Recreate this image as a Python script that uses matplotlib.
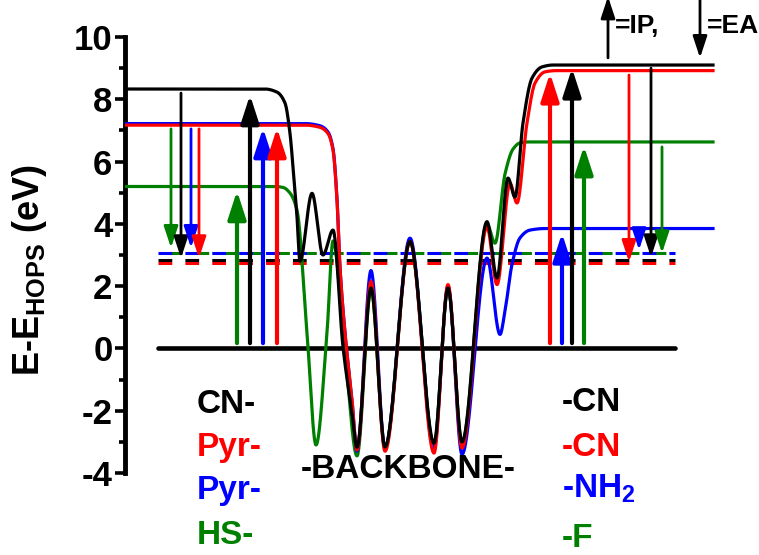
import matplotlib

matplotlib.use("Agg")
import matplotlib.pyplot as plt
import numpy as np
from matplotlib.ticker import MultipleLocator

plt.rcParams["font.family"] = ["Liberation Sans", "DejaVu Sans"]
plt.rcParams["font.weight"] = "bold"
plt.rcParams["axes.unicode_minus"] = False
plt.rcParams["mathtext.fontset"] = "custom"
plt.rcParams["mathtext.rm"] = "Liberation Sans:bold"
plt.rcParams["mathtext.it"] = "Liberation Sans:bold"
plt.rcParams["mathtext.bf"] = "Liberation Sans:bold"

GREEN, BLUE, RED, BLACK = "#008000", "#0000ff", "#ff0000", "#000000"

# energy profiles along the molecule (position, E - E_HOPS in eV)
X_CN = [125, 265, 277, 285, 290, 293, 297, 300, 312, 323, 333, 343, 352, 357, 371, 385,
        410, 434, 448, 462, 487, 497, 508, 515, 523, 532, 542, 553, 713]
Y_CN = [8.33, 8.33, 8.23, 7.88, 6.9, 5.83, 4.22, 2.8, 4.98, 3.0, 3.8, 0.05, -2.08, -3.17, 1.94, -3.16,
        3.43, -3.04, 1.94, -3.0, 4.07, 2.26, 5.47, 4.86, 7.24, 8.68, 9.04, 9.1, 9.1]

X_PYR_CN = [125, 305, 320, 328, 333, 337, 340, 345, 352, 357, 371, 385, 410, 434, 448, 462,
            487, 497, 510, 517, 527, 535, 545, 556, 713]
Y_PYR_CN = [7.17, 7.17, 7.1, 6.9, 6.37, 4.77, 2.6, 0.5, -1.66, -3.26, 2.15, -3.3, 3.43, -3.36, 2.05, -3.2,
            3.9, 2.05, 5.3, 4.67, 7.24, 8.52, 8.88, 8.92, 8.92]

X_PYR_NH2 = [125, 305, 320, 328, 333, 337, 340, 345, 352, 357, 371, 385, 410, 434, 448, 462,
             487, 500, 505, 512, 520, 530, 545, 713]
Y_PYR_NH2 = [7.22, 7.22, 7.15, 6.95, 6.42, 4.8, 2.6, 0.5, -1.66, -3.3, 2.5, -3.2, 3.54, -3.2, 2.0, -3.4,
             2.9, 0.45, 1.2, 2.7, 3.55, 3.8, 3.85, 3.85]

X_HS_F = [125, 275, 283, 290, 297, 307, 316, 327, 333, 345, 357, 371, 385, 410, 434, 448, 462,
          487, 495, 505, 513, 520, 528, 713]
Y_HS_F = [5.2, 5.2, 5.17, 4.99, 4.44, 0.5, -3.1, 0.5, 3.45, -0.15, -3.45, 1.9, -3.2, 3.43, -3.1, 1.94, -3.05,
          4.0, 3.38, 5.6, 6.4, 6.6, 6.63, 6.63]

# HOPS levels (dashed) and zero reference
DASH_LEVELS = {"green": 3.07, "blue": 3.05, "black": 2.83, "red": 2.73}
DASH_X = [158, 675]
ZERO_X = [158, 675]

# arrows: x, start, end
EA_LEFT_X = [171, 181, 191, 199]
EA_LEFT_TOP = [7.05, 8.2, 7.05, 7.05]
EA_LEFT_TIP = [3.23, 2.9, 3.23, 2.9]
EA_LEFT_C = [GREEN, BLACK, BLUE, RED]

IP_LEFT_X = [237, 250, 263, 277]
IP_LEFT_TIP = [5.06, 8.14, 7.08, 7.08]
IP_LEFT_C = [GREEN, BLACK, BLUE, RED]

IP_RIGHT_X = [550, 562, 572, 584]
IP_RIGHT_TIP = [8.84, 3.7, 9.0, 6.5]
IP_RIGHT_C = [RED, BLUE, BLACK, GREEN]

EA_RIGHT_X = [629, 639, 651, 662]
EA_RIGHT_TOP = [8.78, 3.83, 9.0, 6.47]
EA_RIGHT_TIP = [2.78, 3.16, 2.93, 3.06]
EA_RIGHT_C = [RED, BLUE, BLACK, GREEN]

IP_BASE = 0.17


def smooth(x, y, n=1500):
    """monotone cubic connection through the read points (like a spline-connect line)"""
    x = np.asarray(x, float)
    y = np.asarray(y, float)
    h = np.diff(x)
    d = np.diff(y) / h
    m = np.zeros_like(y)
    for k in range(1, len(x) - 1):
        if d[k - 1] * d[k] > 0:
            w1 = 2 * h[k] + h[k - 1]
            w2 = h[k] + 2 * h[k - 1]
            m[k] = (w1 + w2) / (w1 / d[k - 1] + w2 / d[k])
    xs = np.linspace(x[0], x[-1], n)
    i = np.clip(np.searchsorted(x, xs) - 1, 0, len(x) - 2)
    t = (xs - x[i]) / h[i]
    ys = ((2 * t**3 - 3 * t**2 + 1) * y[i] + (t**3 - 2 * t**2 + t) * h[i] * m[i]
          + (-2 * t**3 + 3 * t**2) * y[i + 1] + (t**3 - t**2) * h[i] * m[i + 1])
    return xs, ys


fig = plt.figure(figsize=(7.59, 5.55), dpi=100)
ax = fig.add_axes([125 / 759, 1 - 473 / 555, (759 - 125) / 759, (473 - 37) / 555])
ax.set_xlim(125, 759)
ax.set_ylim(-4, 10)

# zero line + dashed levels
ax.plot(ZERO_X, [0, 0], color=BLACK, lw=3.3, solid_capstyle="round", zorder=2)
ax.plot(DASH_X, [DASH_LEVELS["green"]] * 2, color=GREEN, lw=2.2, linestyle=(5.5, (4.5, 4.3)), zorder=2)
ax.plot(DASH_X, [DASH_LEVELS["blue"]] * 2, color=BLUE, lw=2.2, linestyle=(0, (4.5, 4.3)), zorder=2)
ax.plot(DASH_X, [DASH_LEVELS["red"]] * 2, color=RED, lw=2.2, linestyle=(0, (4.5, 4.3)), zorder=2)
ax.plot(DASH_X, [DASH_LEVELS["black"]] * 2, color=BLACK, lw=2.2, linestyle=(0, (4.5, 4.3)), zorder=2)

for xx, yy, c in [(X_HS_F, Y_HS_F, GREEN), (X_PYR_NH2, Y_PYR_NH2, BLUE),
                  (X_PYR_CN, Y_PYR_CN, RED), (X_CN, Y_CN, BLACK)]:
    xs, ys = smooth(xx, yy)
    ax.plot(xs, ys, color=c, lw=2.3, zorder=3)


def arrow(x, y0, y1, c, thick):
    if thick:
        style = "-|>,head_length=1.7,head_width=0.55"
        lw = 3.0
    else:
        style = "-|>,head_length=1.3,head_width=0.43"
        lw = 2.0
    ax.annotate("", xy=(x, y1), xytext=(x, y0), annotation_clip=False,
                arrowprops=dict(arrowstyle=style, color=c, lw=lw, mutation_scale=10,
                                shrinkA=0, shrinkB=0), zorder=4)


for x, t0, t1, c in zip(EA_LEFT_X, EA_LEFT_TOP, EA_LEFT_TIP, EA_LEFT_C):
    arrow(x, t0, t1, c, False)
for x, t1, c in zip(IP_LEFT_X, IP_LEFT_TIP, IP_LEFT_C):
    arrow(x, IP_BASE, t1, c, True)
for x, t1, c in zip(IP_RIGHT_X, IP_RIGHT_TIP, IP_RIGHT_C):
    arrow(x, IP_BASE, t1, c, True)
for x, t0, t1, c in zip(EA_RIGHT_X, EA_RIGHT_TOP, EA_RIGHT_TIP, EA_RIGHT_C):
    arrow(x, t0, t1, c, False)

# key at the top
arrow(608, 9.33, 11.3, BLACK, False)
arrow(700, 11.3, 9.33, BLACK, False)
ax.text(615, 10.35, "=IP,", fontsize=19, fontweight="bold", va="center", ha="left")
ax.text(707, 10.35, "=EA", fontsize=19, fontweight="bold", va="center", ha="left")

# group labels
fs = 24
left_lab = [("CN-", BLACK, -1.8), ("Pyr-", RED, -3.17), ("Pyr-", BLUE, -4.55), ("HS-", GREEN, -6.0)]
right_lab = [("-CN", BLACK, -1.75), ("-CN", RED, -3.17), ("-NH$_2$", BLUE, -4.5), ("-F", GREEN, -6.1)]
for s, c, y in left_lab:
    ax.text(197, y, s, color=c, fontsize=fs, fontweight="bold", va="center", ha="left")
for s, c, y in right_lab:
    ax.text(562, y, s, color=c, fontsize=fs, fontweight="bold", va="center", ha="left")
ax.text(408, -3.9, "-BACKBONE-", fontsize=fs, fontweight="bold", va="center", ha="center")

# axes styling
for s in ["top", "right", "bottom"]:
    ax.spines[s].set_visible(False)
ax.spines["left"].set_linewidth(3.5)
ax.set_xticks([])
ax.yaxis.set_major_locator(MultipleLocator(2))
ax.yaxis.set_minor_locator(MultipleLocator(1))
ax.tick_params(axis="y", which="major", length=7, width=2.6, direction="out", pad=2, labelsize=25)
ax.tick_params(axis="y", which="minor", length=4.5, width=2.6, direction="out")
for lab in ax.get_yticklabels():
    lab.set_fontweight("bold")

fig.text(30 / 759, 1 - 270 / 555, r"E-E$_{\mathrm{HOPS}}$ (eV)", rotation=90,
         ha="center", va="center", fontsize=26, fontweight="bold")

fig.savefig("out.png", dpi=100)
